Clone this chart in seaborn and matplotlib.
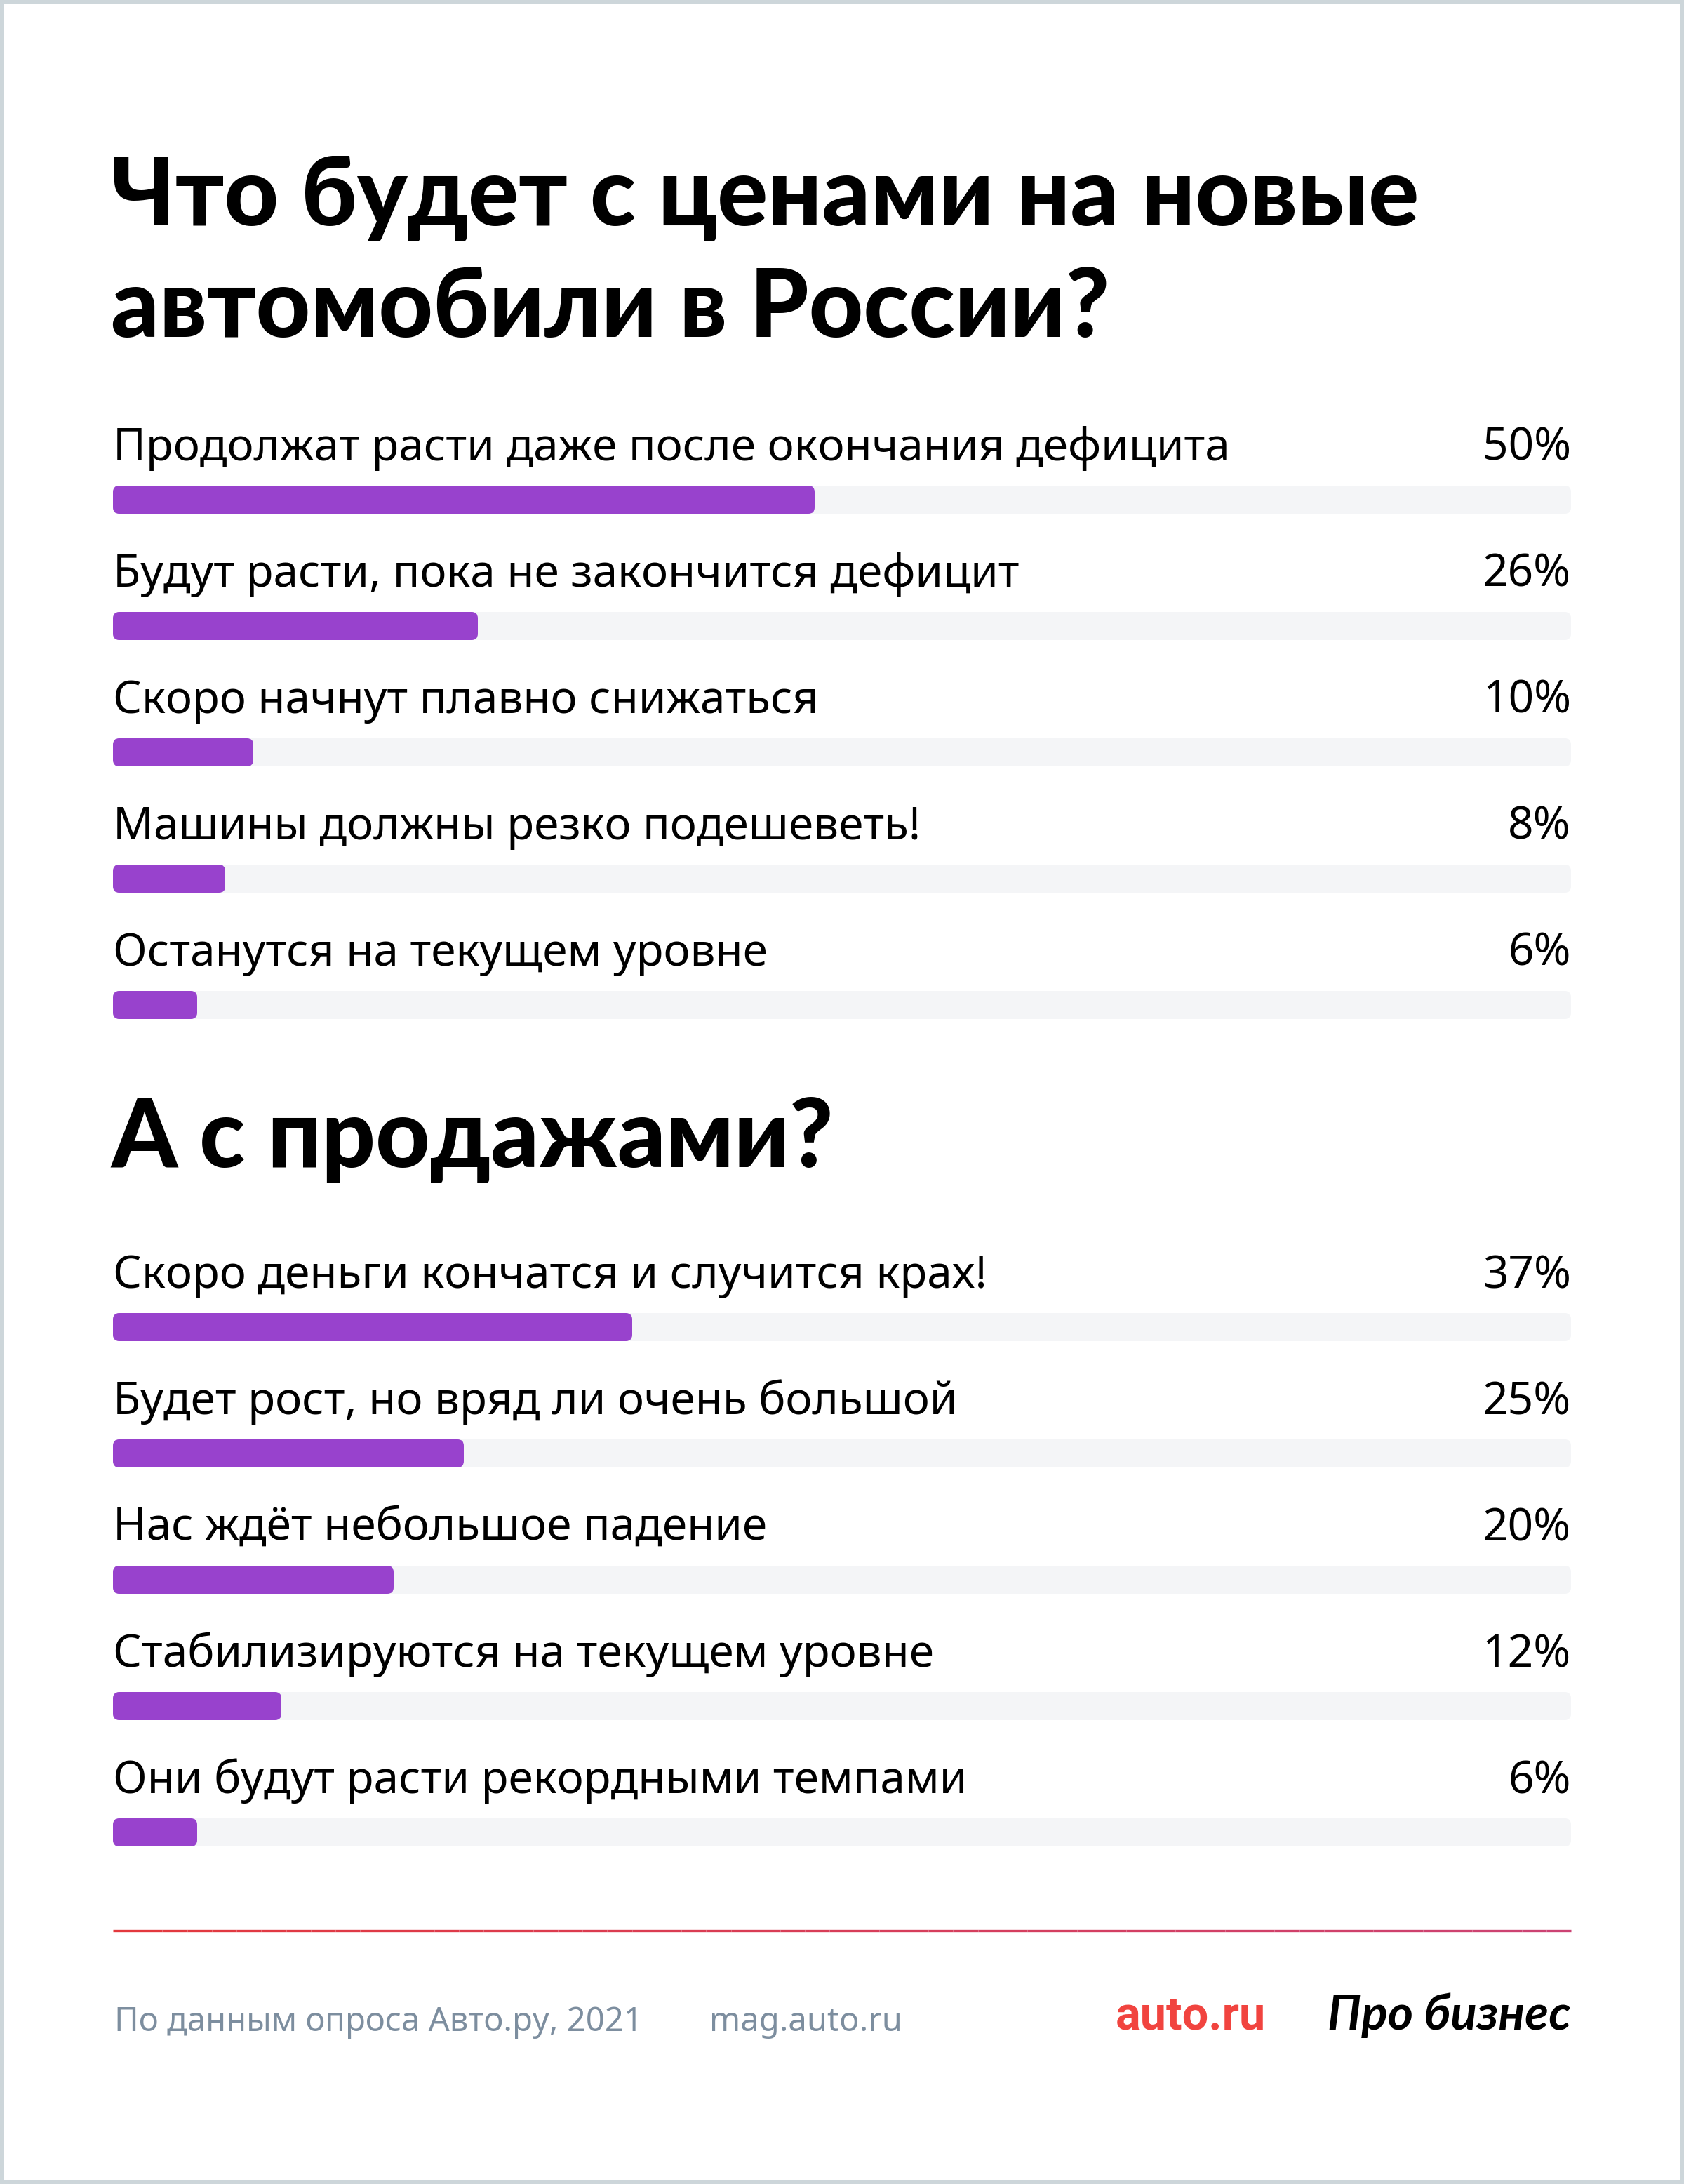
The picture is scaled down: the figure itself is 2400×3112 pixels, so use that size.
import numpy as np
import seaborn as sns
import matplotlib.pyplot as plt
from matplotlib.patches import FancyBboxPatch
from matplotlib.collections import LineCollection

sns.set_theme(style="white")
plt.rcParams["font.family"] = ["Noto Sans", "DejaVu Sans"]
plt.rcParams["text.color"] = "black"

# data
title_prices = "Что будет с ценами на новые\nавтомобили в России?"
labels_prices = [
    "Продолжат расти даже после окончания дефицита",
    "Будут расти, пока не закончится дефицит",
    "Скоро начнут плавно снижаться",
    "Машины должны резко подешеветь!",
    "Останутся на текущем уровне",
]
values_prices = [50, 26, 10, 8, 6]

title_sales = "А с продажами?"
labels_sales = [
    "Скоро деньги кончатся и случится крах!",
    "Будет рост, но вряд ли очень большой",
    "Нас ждёт небольшое падение",
    "Стабилизируются на текущем уровне",
    "Они будут расти рекордными темпами",
]
values_sales = [37, 25, 20, 12, 6]

source_text = "По данным опроса Авто.ру, 2021"
site_text = "mag.auto.ru"

W, H = 2400, 3112
PURPLE = "#9842cd"
TRACK_COLOR = "#f4f5f7"
GREY = "#7d8e9f"
TRACK_MAX = 103.9  # grey track is a bit longer than 100%
TITLE_FONT = ["Lato", "DejaVu Sans"]


def fx(px):
    return px / W


def fy(px):
    return 1 - px / H


def round_bars(ax, x_per_px, y_per_px, r_px=9):
    for p in list(ax.patches):
        x, y = p.get_x(), p.get_y()
        w, h = p.get_width(), p.get_height()
        fb = FancyBboxPatch(
            (x, y), w, h,
            boxstyle=f"round,pad=0,rounding_size={r_px * x_per_px}",
            mutation_aspect=y_per_px / x_per_px,
            facecolor=p.get_facecolor(), edgecolor="none", zorder=p.get_zorder(),
        )
        p.remove()
        ax.add_patch(fb)


def draw_section(fig, top_px, labels, values):
    left, right = 161, 2239
    row = 180
    height_px = row * len(labels)
    ax = fig.add_axes([fx(left), fy(top_px + height_px), (right - left) / W, height_px / H])
    sns.barplot(x=[TRACK_MAX] * len(labels), y=labels, orient="h",
                color=TRACK_COLOR, width=40 / row, saturation=1, ax=ax)
    sns.barplot(x=values, y=labels, orient="h",
                color=PURPLE, width=40 / row, saturation=1, ax=ax)
    ax.set_xlim(0, TRACK_MAX)
    ax.set_ylim(len(labels) - 0.5, -0.5)
    ax.axis("off")
    round_bars(ax, TRACK_MAX / (right - left), len(labels) / height_px)

    off = 56 / row
    for i, (lab, v) in enumerate(zip(labels, values)):
        ax.text(0, i - off, lab, fontsize=23, color="black", va="baseline", ha="left")
        ax.text(TRACK_MAX, i - off, f"{v}%", fontsize=23, color="black",
                va="baseline", ha="right")
    return ax


fig = plt.figure(figsize=(12, 15.56), dpi=200, facecolor="white",
                 edgecolor="#cdd6da", linewidth=3)

title_kw = dict(fontsize=48.5, fontweight="black", family=TITLE_FONT,
                color="black", va="baseline", ha="left")
fig.text(fx(158), fy(321), title_prices.split("\n")[0], **title_kw)
fig.text(fx(158), fy(480), title_prices.split("\n")[1], **title_kw)
draw_section(fig, 622, labels_prices, values_prices)

fig.text(fx(158), fy(1663), title_sales, **title_kw)
draw_section(fig, 1801, labels_sales, values_sales)

# red divider with a slight gradient
xs = np.linspace(fx(161), fx(2239), 60)
segs = [[(xs[i], fy(2751)), (xs[i + 1], fy(2751))] for i in range(len(xs) - 1)]
c0 = np.array([0.89, 0.22, 0.24])
c1 = np.array([0.80, 0.26, 0.45])
cols = [tuple(c0 + (c1 - c0) * t) for t in np.linspace(0, 1, len(segs))]
fig.add_artist(LineCollection(segs, colors=cols, linewidths=1.2,
                              transform=fig.transFigure))

# footer
fig.text(fx(163), fy(2894), source_text, fontsize=17, color=GREY, va="baseline")
fig.text(fx(1011), fy(2894), site_text, fontsize=17, color=GREY, va="baseline")
fig.text(fx(1590), fy(2892), "auto.ru", fontsize=24, color="#f1443f",
         fontweight="bold", family=["Roboto", "DejaVu Sans"], va="baseline")
fig.text(fx(2239), fy(2892), "Про бизнес", fontsize=25, color="black",
         style="italic", fontweight="bold", family=["Lato", "DejaVu Sans"],
         va="baseline", ha="right")

fig.savefig("out.png", dpi=200, facecolor="white", edgecolor=fig.get_edgecolor())
